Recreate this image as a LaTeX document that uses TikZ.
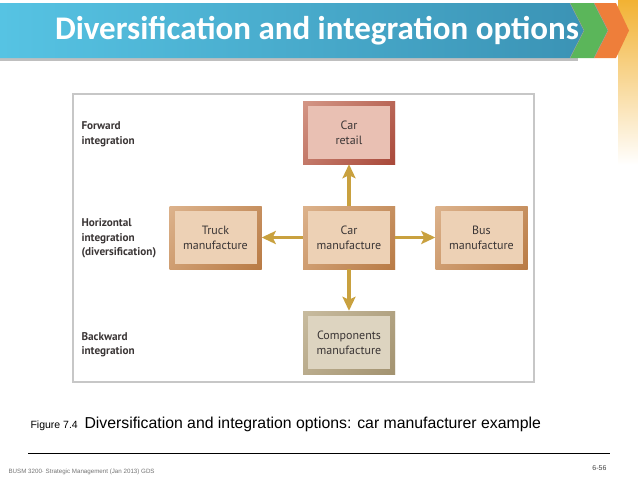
\documentclass[tikz,border=0pt]{standalone}
\usepackage{fontspec}
\setmainfont{Liberation Sans}
\newfontfamily\titlefont{Carlito}
\newfontfamily\dinfont{PT Sans}
\usetikzlibrary{arrows.meta}
\definecolor{bluel}{HTML}{56C3E3}
\definecolor{blued}{HTML}{3B93B5}
\definecolor{greenc}{HTML}{5BB65A}
\definecolor{orangec}{HTML}{EE7E3A}
\definecolor{yellowc}{HTML}{F2B233}
\definecolor{goldarrow}{HTML}{C9A13F}
\definecolor{labelgray}{HTML}{3A3535}
\definecolor{tanin}{HTML}{EDD1B5}
\definecolor{tanlight}{HTML}{E6C19E}
\definecolor{tandark}{HTML}{B97B45}
\definecolor{redin}{HTML}{E9C0B3}
\definecolor{redlight}{HTML}{DFAA99}
\definecolor{reddark}{HTML}{A9493A}
\definecolor{grin}{HTML}{DDD4C0}
\definecolor{grlight}{HTML}{D2C6AB}
\definecolor{grdark}{HTML}{A39370}
\tikzset{
  dbox/.style n args={3}{minimum width=92pt, minimum height=63pt, inner sep=0pt,
    align=center, text=labelgray, font=\dinfont\fontsize{12}{15}\selectfont,
    path picture={
      \shade[left color=#1, right color=#2]
        (path picture bounding box.south west) rectangle (path picture bounding box.north east);
      \shade[top color=#1!60!#2, bottom color=#2, opacity=0.5]
        (path picture bounding box.south west) rectangle (path picture bounding box.north east);
      \fill[#3] ([shift={(5pt,5pt)}]path picture bounding box.south west)
        rectangle ([shift={(-5pt,-5pt)}]path picture bounding box.north east);
    }},
  tanbox/.style={dbox={tanlight}{tandark}{tanin}},
  redbox/.style={dbox={redlight}{reddark}{redin}},
  grbox/.style={dbox={grlight}{grdark}{grin}},
  sidelabel/.style={anchor=west, align=left, text=labelgray,
    font=\dinfont\bfseries\fontsize{11.2}{14.5}\selectfont},
  goldarr/.style={draw=goldarrow, line width=3.5pt,
    -{Stealth[length=14pt,width=13pt,inset=3pt]}},
}
\begin{document}
\begin{tikzpicture}[x=1pt,y=-1pt]
\useasboundingbox (0,0) rectangle (638,479);
% yellow bar at right
\shade[top color=yellowc, bottom color=white] (618,0) rectangle (638,165);
% shadow under banner
\fill[black!25] (0,58) rectangle (578,61);
% banner
\shade[left color=bluel, right color=blued]
  (0,3) -- (570,3) -- (584,30.5) -- (570,58) -- (0,58) -- cycle;
\fill[greenc] (570,3) -- (594,3) -- (608,30.5) -- (594,58) -- (570,58) -- (584,30.5) -- cycle;
\fill[orangec] (594,3) -- (616,3) -- (629,30.5) -- (616,58) -- (594,58) -- (608,30.5) -- cycle;
\draw[black!40, line width=0.4pt] (570,3) -- (584,30.5) -- (570,58);
\draw[black!40, line width=0.4pt] (594,3) -- (608,30.5) -- (594,58);
\node[text=white, font=\titlefont\bfseries\fontsize{33}{36}\selectfont] (title) at (317,31) {Diversification and integration options};
% frame
\draw[black!22, line width=1.2pt] (73,94) rectangle (534,382);
% boxes
\node[redbox] (retail) at (349,132.5) {Car\\retail};
\node[tanbox] (carman) at (349,237.5) {Car\\manufacture};
\node[grbox] (comp) at (349,342.5) {Components\\manufacture};
\node[tanbox] (truck) at (215.5,237.5) {Truck\\manufacture};
\node[tanbox] (bus) at (481.5,237.5) {Bus\\manufacture};
% arrows
\draw[goldarr] (carman.north) -- (retail.south);
\draw[goldarr] (carman.south) -- (comp.north);
\draw[goldarr] (carman.west) -- (truck.east);
\draw[goldarr] (carman.east) -- (bus.west);
% side labels
\node[sidelabel] (fwd) at (78,134.5) {Forward\\integration};
\node[sidelabel] (hor) at (78,238.5) {Horizontal\\integration\\(diversification)};
\node[sidelabel] (bwd) at (78,344.5) {Backward\\integration};
% caption
\node[anchor=base west, font=\fontsize{10.5}{12}\selectfont] (fig) at (27,428) {Figure 7.4};
\node[anchor=base west, font=\fontsize{15.8}{18}\selectfont] (cap) at (81,428) {Diversification and integration options: car manufacturer example};
\draw[black, line width=0.8pt] (28,453) -- (610,453);
\node[anchor=base west, text=black!55, font=\fontsize{6.2}{7}\selectfont] (foot) at (5,473) {BUSM 3200· Strategic Management (Jan 2013) GDS};
\node[anchor=base east, text=black!75, font=\fontsize{7}{8}\selectfont] (page) at (610,470) {6-56};
\end{tikzpicture}
\end{document}
